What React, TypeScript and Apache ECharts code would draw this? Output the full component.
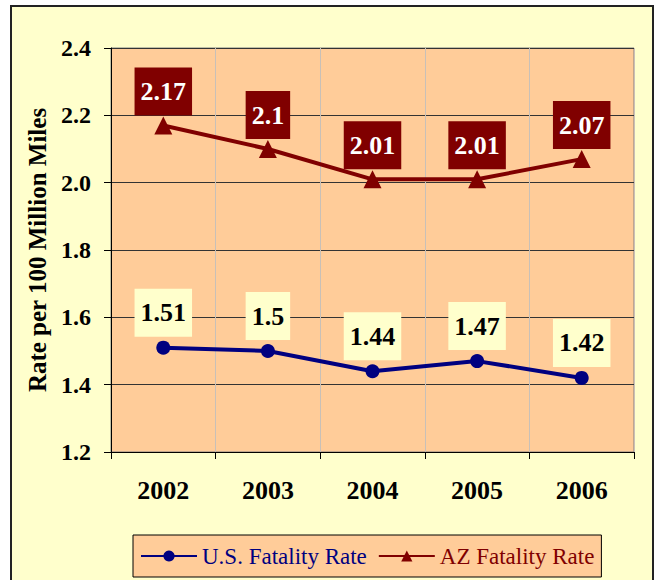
import React, { useEffect, useRef } from "react";
import * as echarts from "echarts";

const years = ["2002", "2003", "2004", "2005", "2006"];
const usRate = [1.51, 1.5, 1.44, 1.47, 1.42];
const azRate = [2.17, 2.1, 2.01, 2.01, 2.07];
const yMin = 1.2;
const yMax = 2.4;
const yStep = 0.2;

const FONT = "Liberation Serif";

export default function App() {
  const ref = useRef<HTMLDivElement>(null);
  useEffect(() => {
    if (!ref.current) return;
    const chart = echarts.init(ref.current, null, { renderer: "svg" });
    const labelBase = {
      show: true,
      position: "top",
      fontFamily: FONT,
      fontSize: 26,
      fontWeight: "bold",
      padding: [9, 6, 9, 6],
      lineHeight: 30,
    };
    chart.setOption({
      animation: false,
      textStyle: { fontFamily: FONT },
      graphic: [
        {
          type: "rect",
          z: -10,
          shape: { x: 11, y: 6, width: 642, height: 600 },
          style: { fill: "#FFFFCC", stroke: "#222", lineWidth: 2 },
        },
      ],
      grid: {
        left: 111,
        top: 48,
        right: 25,
        bottom: 128,
        show: true,
        backgroundColor: "#FFCC99",
        borderColor: "#808080",
        borderWidth: 1,
      },
      legend: {
        left: 133,
        top: 535,
        width: 500,
        padding: [8, 7, 8, 7],
        backgroundColor: "#FFCC99",
        borderColor: "#000",
        borderWidth: 1,
        itemWidth: 56,
        itemHeight: 14,
        itemGap: 11,
        textStyle: { fontFamily: FONT, fontSize: 23, fontWeight: "normal", lineHeight: 26 },
        data: [
          { name: "U.S. Fatality Rate", textStyle: { color: "#000080" } },
          { name: "AZ Fatality Rate", textStyle: { color: "#800000" } },
        ],
      },
      xAxis: {
        type: "category",
        data: years,
        boundaryGap: true,
        axisLine: { lineStyle: { color: "#000", width: 1 } },
        axisTick: { show: true, length: 7, lineStyle: { color: "#000" } },
        axisLabel: {
          margin: 25,
          fontFamily: FONT,
          fontSize: 26,
          fontWeight: "bold",
          color: "#000",
        },
        splitLine: { show: true, lineStyle: { color: "#C8C0B8", width: 1 } },
      },
      yAxis: {
        type: "value",
        min: yMin,
        max: yMax,
        interval: yStep,
        name: "Rate per 100 Million Miles",
        nameLocation: "middle",
        nameGap: 61,
        nameTextStyle: {
          fontFamily: FONT,
          fontSize: 25,
          fontWeight: "bold",
          color: "#000",
        },
        axisLine: { show: true, lineStyle: { color: "#000", width: 1 } },
        axisTick: { show: true, length: 7, lineStyle: { color: "#000" } },
        axisLabel: {
          margin: 20,
          fontFamily: FONT,
          fontSize: 24,
          fontWeight: "bold",
          color: "#000",
          formatter: (v: number) => v.toFixed(1),
        },
        splitLine: { show: true, lineStyle: { color: "#333", width: 1 } },
      },
      series: [
        {
          name: "U.S. Fatality Rate",
          type: "line",
          data: usRate,
          symbol: "circle",
          symbolSize: 14,
          color: "#000080",
          lineStyle: { color: "#000080", width: 4 },
          itemStyle: { color: "#000080" },
          label: {
            ...labelBase,
            distance: 4,
            color: "#000",
            backgroundColor: "#FFFFCC",
          },
        },
        {
          name: "AZ Fatality Rate",
          type: "line",
          data: azRate,
          symbol: "triangle",
          symbolSize: 18,
          color: "#800000",
          lineStyle: { color: "#800000", width: 4 },
          itemStyle: { color: "#800000" },
          label: {
            ...labelBase,
            distance: 1,
            color: "#fff",
            backgroundColor: "#800000",
          },
        },
      ],
    });
    return () => chart.dispose();
  }, []);
  return (
    <div
      ref={ref}
      style={{ position: "absolute", left: 0, top: 0, width: 659, height: 580 }}
    />
  );
}
